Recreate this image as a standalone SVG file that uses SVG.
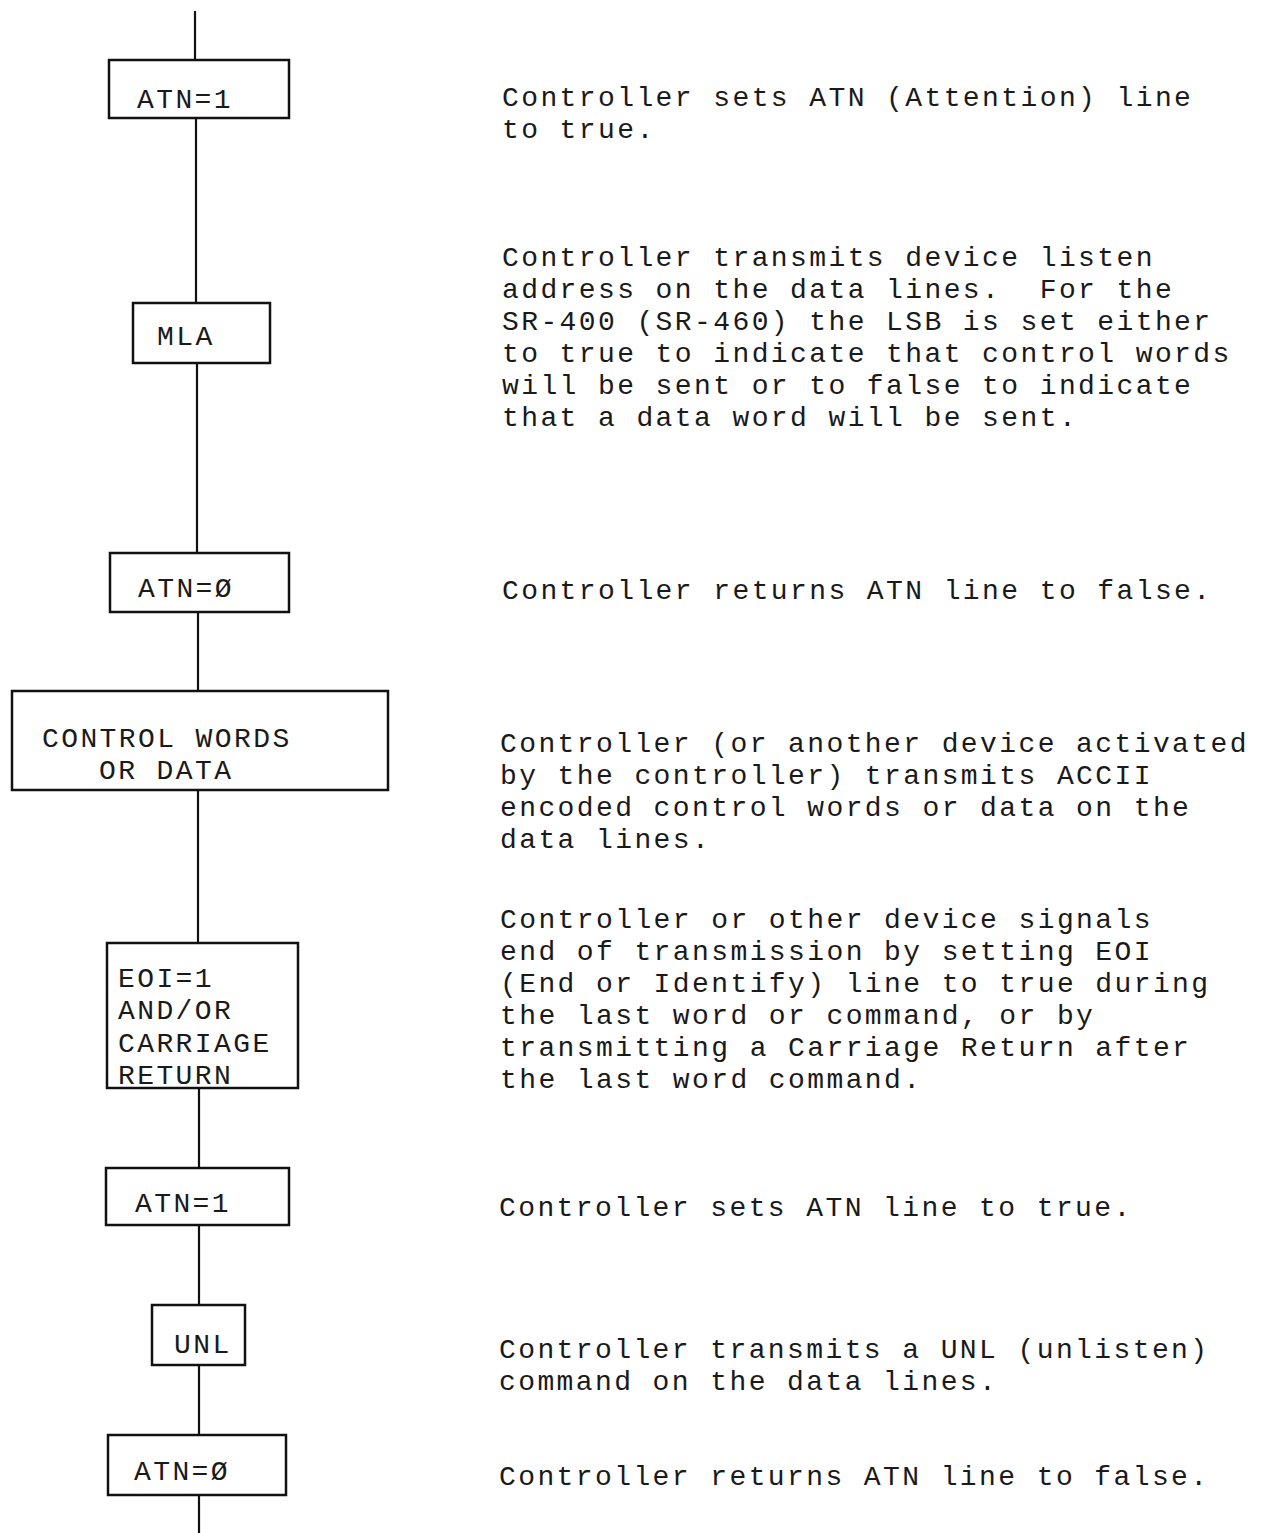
<svg xmlns="http://www.w3.org/2000/svg" width="1266" height="1533" viewBox="0 0 1266 1533">
<style>
  .box { fill: #ffffff; stroke: #111111; stroke-width: 2.5; }
  .conn { stroke: #111111; stroke-width: 2.2; fill: none; }
  text { font-family: "Liberation Mono", "Courier New", monospace; font-size: 28px; letter-spacing: 2.4px; fill: #1a1a1a; white-space: pre; }
</style>
<rect x="0" y="0" width="1266" height="1533" fill="#ffffff"/>
<g id="connectors">
  <line class="conn" x1="195" y1="11" x2="195" y2="60"/>
  <line class="conn" x1="196" y1="118" x2="196" y2="303"/>
  <line class="conn" x1="197" y1="363" x2="197" y2="553"/>
  <line class="conn" x1="198" y1="612" x2="198" y2="691"/>
  <line class="conn" x1="198" y1="790" x2="198" y2="943"/>
  <line class="conn" x1="199" y1="1088" x2="199" y2="1168"/>
  <line class="conn" x1="199" y1="1225" x2="199" y2="1305"/>
  <line class="conn" x1="199" y1="1365" x2="199" y2="1435"/>
  <line class="conn" x1="199" y1="1495" x2="199" y2="1533"/>
</g>
<g id="node-atn1-a">
  <rect class="box" x="109" y="60" width="180" height="58"/>
  <text x="137" y="108">ATN=1</text>
</g>
<g id="node-mla">
  <rect class="box" x="133" y="303" width="137" height="60"/>
  <text x="157" y="345">MLA</text>
</g>
<g id="node-atn0-a">
  <rect class="box" x="110" y="553" width="179" height="59"/>
  <text x="138" y="597">ATN=Ø</text>
</g>
<g id="node-control">
  <rect class="box" x="12" y="691" width="376" height="99"/>
  <text x="42" y="747">CONTROL WORDS</text>
  <text x="99" y="779">OR DATA</text>
</g>
<g id="node-eoi">
  <rect class="box" x="107" y="943" width="191" height="145"/>
  <text x="118" y="987">EOI=1</text>
  <text x="118" y="1019">AND/OR</text>
  <text x="118" y="1052">CARRIAGE</text>
  <text x="118" y="1084">RETURN</text>
</g>
<g id="node-atn1-b">
  <rect class="box" x="106" y="1168" width="183" height="57"/>
  <text x="135" y="1212">ATN=1</text>
</g>
<g id="node-unl">
  <rect class="box" x="152" y="1305" width="93" height="60"/>
  <text x="174" y="1353">UNL</text>
</g>
<g id="node-atn0-b">
  <rect class="box" x="108" y="1435" width="178" height="60"/>
  <text x="134" y="1480">ATN=Ø</text>
</g>
<g id="descriptions">
  <text x="502" y="106">Controller sets ATN (Attention) line</text>
  <text x="502" y="138">to true.</text>
  <text x="502" y="266">Controller transmits device listen</text>
  <text x="502" y="298" xml:space="preserve">address on the data lines.  For the</text>
  <text x="502" y="330">SR-400 (SR-460) the LSB is set either</text>
  <text x="502" y="362">to true to indicate that control words</text>
  <text x="502" y="394">will be sent or to false to indicate</text>
  <text x="502" y="426">that a data word will be sent.</text>
  <text x="502" y="599">Controller returns ATN line to false.</text>
  <text x="500" y="752">Controller (or another device activated</text>
  <text x="500" y="784">by the controller) transmits ACCII</text>
  <text x="500" y="816">encoded control words or data on the</text>
  <text x="500" y="848">data lines.</text>
  <text x="500" y="928">Controller or other device signals</text>
  <text x="500" y="960">end of transmission by setting EOI</text>
  <text x="500" y="992">(End or Identify) line to true during</text>
  <text x="500" y="1024">the last word or command, or by</text>
  <text x="500" y="1056">transmitting a Carriage Return after</text>
  <text x="500" y="1088">the last word command.</text>
  <text x="499" y="1216">Controller sets ATN line to true.</text>
  <text x="499" y="1358">Controller transmits a UNL (unlisten)</text>
  <text x="499" y="1390">command on the data lines.</text>
  <text x="499" y="1485">Controller returns ATN line to false.</text>
</g>
</svg>
